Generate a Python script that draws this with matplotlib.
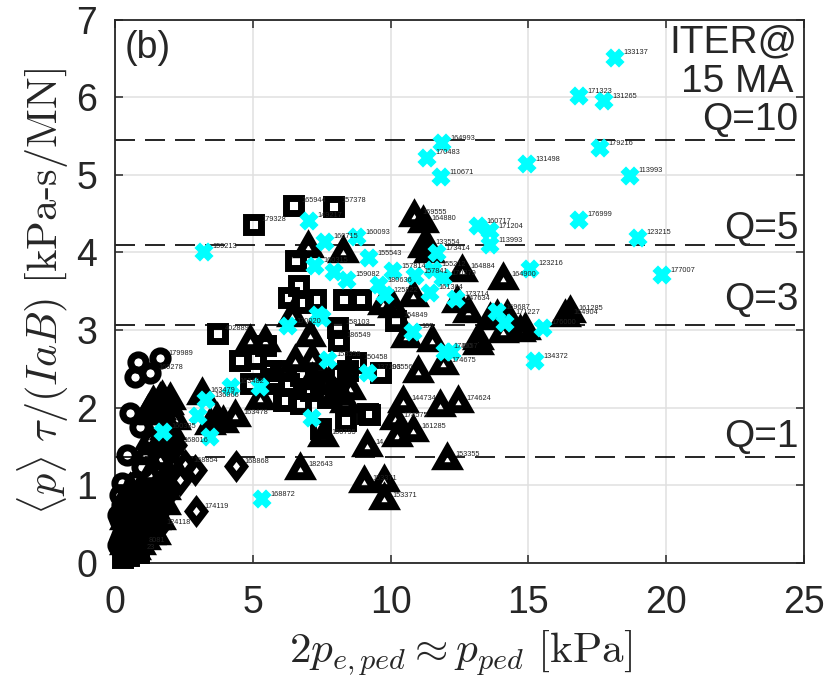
import matplotlib
matplotlib.use('Agg')
import matplotlib.pyplot as plt
from matplotlib.path import Path
from matplotlib.markers import MarkerStyle

plt.rcParams['font.family'] = ['Liberation Sans', 'DejaVu Sans']
plt.rcParams['mathtext.fontset'] = 'cm'

tri_x = [10.85,11.18,11.32,11.39,12.59,14.08,12.41,12.81,10.81,13.61,14.22,14.88,14.70,13.17,13.17,14.08,16.51,16.33,11.50,10.56,11.90,10.99,13.86,10.45,11.79,12.45,10.16,10.81,10.23,9.14,12.05,6.71,9.03,9.76,9.76,7.55,7.00,8.27,11.18,7.08,6.53,7.15,4.90,5.44,9.72,10.09,6.42,7.98,8.53,7.62,3.16,3.70,4.35,3.92,3.45,1.71,1.38,2.00,1.45,2.00,1.56,2.07,1.81,1.09,1.27,0.91,1.45,1.81,5.26,
         1.27,1.63,2.18,1.81,1.27,2.00,1.63,1.27,1.81,1.27,0.91,0.73,1.27,0.36,0.54,0.91,0.36,0.73,7.15,8.35,
         1.63,1.92,1.20,0.54,0.36,0.73,1.09,0.54,1.09,1.45,1.63,1.45,1.09,1.63]
tri_y = [4.45,4.38,4.07,3.99,3.75,3.65,3.35,3.22,3.43,3.13,3.17,3.00,2.98,2.87,2.81,2.96,3.22,3.17,2.84,2.90,2.55,2.45,3.17,2.06,2.01,2.06,1.84,1.69,1.62,1.49,1.33,1.20,1.03,1.04,0.81,1.62,4.06,3.99,4.06,2.91,2.59,2.62,2.84,2.85,3.32,3.29,3.17,2.16,2.23,2.29,2.16,1.84,1.88,1.80,1.78,2.13,2.06,2.10,1.91,1.71,1.52,1.26,1.04,0.55,0.36,0.23,0.55,0.75,2.10,
         1.91,1.97,1.84,1.71,1.59,1.52,1.33,1.13,0.94,0.75,0.55,0.36,0.55,0.55,0.75,0.94,0.23,0.17,2.36,2.06,
         2.10,2.04,1.95,0.30,0.43,0.68,0.81,0.94,0.30,0.36,0.55,0.94,1.39,1.52]
tri_lab = ['169555','164880','133554','','164884','164900','147634','','','','171227','','','','','','161285','164904','','','174675','','','144734','','174624','174575','161285','','14','153355','182643','153371','','153371','160795','','','','','','','','','','','','','','','163479','','163478','','','','','','','','','','','','','8081','','','']
tri_lab = tri_lab + [''] * (len(tri_x) - len(tri_lab))

sq_x = [5.01,6.46,7.91,3.70,6.53,6.64,6.28,6.79,7.26,8.27,8.89,10.16,8.06,8.09,8.71,9.62,8.42,8.09,6.89,6.28,6.17,6.71,7.44,8.35,9.22,9.14,8.06,7.69,5.73,4.50,5.08,4.90,6.10,5.73,5.44,0.25,0.54,0.83,0.36,0.36,0.73,0.47,0.91,7.08,7.44,6.71,5.98,5.62]
sq_y = [4.36,4.61,4.60,2.96,3.90,3.58,3.43,3.36,3.40,3.40,3.40,3.13,3.04,2.87,2.59,2.46,2.49,2.45,2.26,2.32,2.10,2.06,1.74,1.84,1.92,1.93,2.19,2.14,2.32,2.62,2.64,2.32,2.10,2.38,2.81,0.08,0.17,0.14,0.23,0.43,0.43,0.10,0.30,2.23,2.36,2.42,2.49,2.49]
sq_lab = ['179328','165944','157378','402889','','','','','','','','154849','158103','186549','150458','196556','','','','','','','','','','','','','','','','','','','','','','23','']
sq_lab = sq_lab + [''] * (len(sq_x) - len(sq_lab))

circ_x = [1.63,1.27,0.83,0.73,0.54,0.91,0.44,0.98,0.25,0.73,0.25,0.18,0.25,0.54,0.47,0.91,0.73,0.36,0.18,0.36,0.60,0.18,0.11,0.11,0.47,0.47,0.91,0.83]
circ_y = [2.64,2.45,2.59,2.40,1.93,1.75,1.39,1.24,1.03,1.04,0.75,0.55,0.36,0.43,0.66,0.81,0.55,0.23,0.88,0.62,0.30,0.30,0.62,0.23,0.49,0.30,0.49,0.68]
circ_lab = ['179989','169278'] + [''] * (len(circ_x) - 2)

dia_x = [4.39,2.94,1.56,2.18,2.54,2.90,2.36,2.00,1.63,1.27,2.00]
dia_y = [1.25,0.67,0.46,1.52,1.26,1.20,1.07,0.94,0.68,0.81,1.46]
dia_lab = ['168868','174119','124118','168016','168854','','','','','','']

cyan_x = [18.14,16.84,17.74,11.87,11.32,17.60,14.95,11.83,18.69,16.84,13.17,13.61,13.61,18.98,19.85,15.06,15.24,3.23,5.33,7.04,7.62,8.78,9.22,7.26,7.95,8.42,9.58,10.09,10.89,11.54,11.90,11.43,11.68,9.80,12.37,7.37,7.51,6.28,10.81,11.97,12.23,7.73,9.18,5.26,7.15,4.21,3.30,3.01,3.45,1.74,13.86,14.15,15.53]
cyan_y = [6.51,6.01,5.95,5.41,5.22,5.34,5.14,4.97,4.99,4.42,4.34,4.27,4.09,4.19,3.71,3.79,2.60,4.01,0.82,4.41,4.14,4.20,3.93,3.83,3.75,3.65,3.58,3.76,3.69,3.78,3.67,3.48,3.99,3.45,3.40,3.20,3.16,3.05,2.98,2.72,2.72,2.62,2.45,2.27,1.87,2.27,2.10,1.89,1.62,1.69,3.23,3.09,3.03]
cyan_lab = ['133137','171323','131265','164993','170483','179216','131498','110671','113993','176999','160717','171204','113993','123215','177007','123216','134372','159213','168872','149217','160715','160093','155543','160315','','159082','180636','157814','157841','155212','170279','161364','173414','125822','173714','','','170020','105','174657','150','153358','137103','','','163482','136966','','','160385','169687','','176000']

q_levels = [5.45, 4.09, 3.07, 1.37]
q_labels = ['Q=10', 'Q=5', 'Q=3', 'Q=1']
q_label_y = [5.70, 4.30, 3.39, 1.62]
xticks = [0, 5, 10, 15, 20, 25]
yticks = [0, 1, 2, 3, 4, 5, 6, 7]

W, H = 831, 678
fig = plt.figure(figsize=(W/100, H/100), dpi=100)
ax = fig.add_axes([115/W, 1-563/H, (804-115)/W, (563-19.5)/H])
ax.set_xlim(0, 25)
ax.set_ylim(0, 7)
ax.set_xticks(xticks)
ax.set_yticks(yticks)
ax.grid(True, color='#e0e0e0', lw=1.1, zorder=0)
ax.set_axisbelow(True)
ax.tick_params(direction='in', top=True, right=True, length=5.5, width=1.1,
               labelsize=27, colors='#262626')
ax.tick_params(axis='x', pad=16)
ax.tick_params(axis='y', pad=13)
for s in ax.spines.values():
    s.set_color('#262626')
    s.set_linewidth(1.3)

for lv in q_levels:
    ax.axhline(lv, color='black', lw=1.2, dashes=(12, 6), zorder=1)

C = Path.CLOSEPOLY
M, L = Path.MOVETO, Path.LINETO
tri = MarkerStyle(Path([(0, 19.3), (-16.5, -9.7), (16.5, -9.7), (0, 19.3),
                        (0, 3.4), (3, -1.7), (-3, -1.7), (0, 3.4)],
                       [M, L, L, C, M, L, L, C]))
dia = MarkerStyle(Path([(0, 16.5), (-12.5, 0), (0, -16.5), (12.5, 0), (0, 16.5),
                        (0, 4.5), (3.5, 0), (0, -4.5), (-3.5, 0), (0, 4.5)],
                       [M, L, L, L, C, M, L, L, L, C]))

common = dict(ls='none', mfc='none', mec='black', clip_on=False, zorder=3)
solid = dict(ls='none', mfc='black', mec='none', mew=0, clip_on=False, zorder=3)
ax.plot(sq_x, sq_y, marker='s', ms=10.8, mew=5.0, **common)
ax.plot(circ_x, circ_y, marker='o', ms=11, mew=5.0, **common)
ax.plot(tri_x, tri_y, marker=tri, ms=27.8, **solid)
ax.plot(dia_x, dia_y, marker=dia, ms=23.8, **solid)
ax.plot(cyan_x, cyan_y, ls='none', marker='X', ms=11.5, mfc='#00ffff', mec='#00ffff', mew=1.6, zorder=4)

for xs, ys, labs in [(sq_x, sq_y, sq_lab), (circ_x, circ_y, circ_lab), (tri_x, tri_y, tri_lab),
                     (dia_x, dia_y, dia_lab), (cyan_x, cyan_y, cyan_lab)]:
    for x, y, t in zip(xs, ys, labs):
        if t:
            ax.annotate(t, (x, y), xytext=(6, 3.5), textcoords='offset points', fontsize=5.3,
                        color='#222222', ha='left', va='center', zorder=5, annotation_clip=False)

fig.text(461/W, 1-653/H, r'$2p_{e,ped} \approx p_{ped}\ [\mathrm{kPa}]$', fontsize=31,
         color='#262626', ha='center', va='center')
fig.text(43/W, 1-291/H, r'$\langle p \rangle\ \tau/(IaB)\ [\mathrm{kPa\text{-}s/MN}]$', fontsize=30.5,
         color='#262626', ha='center', va='center', rotation=90)

ax.text(0.35, 6.63, '(b)', fontsize=27, color='#262626', va='center', zorder=6)
ax.text(24.75, 6.71, 'ITER@', fontsize=28, color='#262626', ha='right', va='center', zorder=6)
ax.text(24.6, 6.19, '15 MA', fontsize=28, color='#262626', ha='right', va='center', zorder=6)
for t, y in zip(q_labels, q_label_y):
    ax.text(24.8, y, t, fontsize=28, color='#262626', ha='right', va='center', zorder=6)

fig.savefig('out.png', dpi=100)
